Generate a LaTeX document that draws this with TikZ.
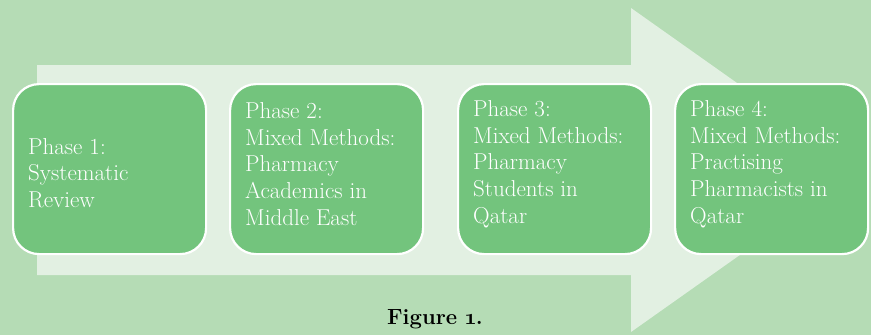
\documentclass[tikz,border=0pt]{standalone}
\usepackage{fontspec}
\setmainfont{Latin Modern Roman}
\definecolor{bgc}{RGB}{181,220,181}
\definecolor{arrc}{RGB}{226,240,226}
\definecolor{boxc}{RGB}{115,196,125}
\begin{document}
\begin{tikzpicture}[x=1pt,y=-1pt,
  phasebox/.style={draw=white, line width=2.2pt, fill=boxc, rounded corners=26pt,
    minimum width=193pt, minimum height=170pt, anchor=north west, inner sep=0pt},
  phasetext/.style={anchor=west, text=white, font=\fontsize{23}{26.8}\selectfont,
    align=left, inner sep=0pt}]
\useasboundingbox (0,0) rectangle (871,335);
\fill[bgc] (0,0) rectangle (871,335);
\fill[arrc] (37,65) -- (631,65) -- (631,8) -- (860,170) -- (631,332) -- (631,275) -- (37,275) -- cycle;
\node[phasebox] (b1) at (12,83) {};
\node[phasebox] (b2) at (229,83) {};
\node[phasebox] (b3) at (457,83) {};
\node[phasebox] (b4) at (674,83) {};
\node[phasetext] (t1) at ([xshift=16pt,yshift=-4pt]b1.west) {Phase 1:\\Systematic\\Review};
\node[phasetext] (t2) at ([xshift=16pt,yshift=5pt]b2.west) {Phase 2:\\Mixed Methods:\\Pharmacy\\Academics in\\Middle East};
\node[phasetext] (t3) at ([xshift=16pt,yshift=5pt]b3.west) {Phase 3:\\Mixed Methods:\\Pharmacy\\Students in\\Qatar};
\node[phasetext] (t4) at ([xshift=16pt,yshift=5pt]b4.west) {Phase 4:\\Mixed Methods:\\Practising\\Pharmacists in\\Qatar};
\node[font=\fontsize{22}{24}\selectfont\bfseries, text=black] (cap) at (435,319) {Figure \oldstylenums{1}.};
\end{tikzpicture}
\end{document}
